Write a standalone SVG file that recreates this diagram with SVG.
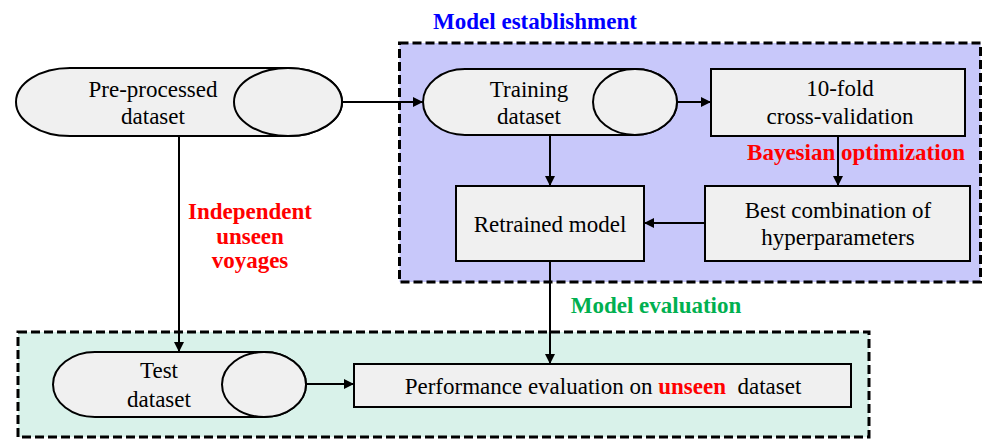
<svg xmlns="http://www.w3.org/2000/svg" width="984" height="439" viewBox="0 0 984 439">
<defs>
<marker id="ah" viewBox="0 0 10 10" refX="10" refY="5" markerWidth="10" markerHeight="10" markerUnits="userSpaceOnUse" orient="auto">
<path d="M0,0 L10,5 L0,10 z" fill="#000"/>
</marker>
<style>
.node{fill:#f0f0f0;stroke:#000;stroke-width:2}
.t{font-family:"Liberation Serif","Times New Roman",serif;font-size:23px;fill:#000;text-anchor:middle}
.b{font-family:"Liberation Serif","Times New Roman",serif;font-size:23px;font-weight:bold;text-anchor:middle}
.zone{stroke:#000;stroke-width:3;stroke-dasharray:9 4}
.c{stroke:#000;stroke-width:2;fill:none;marker-end:url(#ah)}
</style>
</defs>
<rect width="984" height="439" fill="#fff"/>
<g id="zone-establishment">
<rect class="zone" x="399.5" y="43" width="581" height="239" fill="#c8c8fa"/>
<text class="b" x="535" y="29" fill="#0000ff">Model establishment</text>
</g>
<g id="zone-evaluation">
<rect class="zone" x="18" y="332" width="851" height="105" fill="#d9f2ea"/>
<text class="b" x="656" y="313" fill="#00b050">Model evaluation</text>
</g>
<g id="label-independent">
<text class="b" fill="#ff0000"><tspan x="250" y="219">Independent</tspan><tspan x="250" y="244">unseen</tspan><tspan x="250" y="268">voyages</tspan></text>
</g>
<g id="label-bayesian">
<text class="b" x="856" y="160" fill="#ff0000">Bayesian optimization</text>
</g>
<g id="connectors">
<line class="c" x1="342" y1="102" x2="423" y2="102"/>
<line class="c" x1="677" y1="102" x2="711" y2="102"/>
<line class="c" x1="550" y1="135" x2="550" y2="186"/>
<line class="c" x1="838" y1="136" x2="838" y2="186"/>
<line class="c" x1="705" y1="223" x2="644" y2="223"/>
<line class="c" x1="550" y1="261" x2="550" y2="364"/>
<line class="c" x1="179" y1="136" x2="179" y2="352"/>
<line class="c" x1="306" y1="384" x2="354" y2="384"/>
</g>
<g id="pre-processed">
<path class="node" d="M70 68 H288 A54 34 0 0 1 288 136 H70 A54 34 0 0 1 70 68 Z"/>
<ellipse class="node" cx="288" cy="102" rx="54" ry="34"/>
<text class="t"><tspan x="153" y="97">Pre-processed</tspan><tspan x="153" y="124">dataset</tspan></text>
</g>
<g id="training">
<path class="node" d="M465 69 H635 A42 33 0 0 1 635 135 H465 A42 33 0 0 1 465 69 Z"/>
<ellipse class="node" cx="635" cy="102" rx="42" ry="33"/>
<text class="t"><tspan x="529" y="97">Training</tspan><tspan x="529" y="124">dataset</tspan></text>
</g>
<g id="cross-validation">
<rect class="node" x="711" y="69" width="254" height="67"/>
<text class="t"><tspan x="840" y="96">10-fold</tspan><tspan x="840" y="124">cross-validation</tspan></text>
</g>
<g id="best-combination">
<rect class="node" x="705" y="186" width="265" height="75"/>
<text class="t"><tspan x="838" y="218">Best combination of</tspan><tspan x="838" y="245">hyperparameters</tspan></text>
</g>
<g id="retrained">
<rect class="node" x="456" y="186" width="188" height="75"/>
<text class="t" x="550" y="232">Retrained model</text>
</g>
<g id="test">
<path class="node" d="M95 352 H264 A42 32.5 0 0 1 264 417 H95 A42 32.5 0 0 1 95 352 Z"/>
<ellipse class="node" cx="264" cy="384.5" rx="42" ry="32.5"/>
<text class="t"><tspan x="159" y="378">Test</tspan><tspan x="159" y="407">dataset</tspan></text>
</g>
<g id="performance">
<rect class="node" x="354" y="364" width="497" height="43"/>
<text class="t" x="603" y="394" xml:space="preserve">Performance evaluation on <tspan font-weight="bold" fill="#ff0000">unseen</tspan>  dataset</text>
</g>
</svg>
